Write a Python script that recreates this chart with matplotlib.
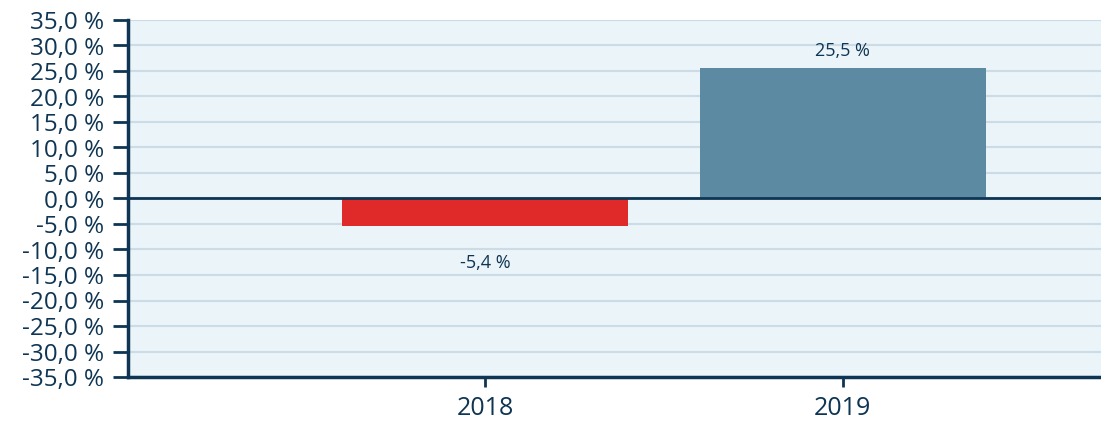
import numpy as np
import matplotlib.pyplot as plt

years = ['2018', '2019']
values = [-5.4, 25.5]
value_labels = ['-5,4 %', '25,5 %']
bar_colors = ['#e02a2a', '#5d8aa3']
y_ticks = list(range(-35, 40, 5))

navy = '#0e3553'

plt.rcParams['font.family'] = ['Open Sans', 'DejaVu Sans']

fig = plt.figure(figsize=(11.01, 4.23), dpi=100)
ax = fig.add_axes([128 / 1101, 1 - 377 / 423, 1 - 128 / 1101, (377 - 20) / 423])
ax.set_facecolor('#ebf4f8')

x = np.arange(len(years))
ax.bar(x, values, width=0.8, color=bar_colors, zorder=2)

# Beschriftung der Balken
for xi, v, lab in zip(x, values, value_labels):
    if v >= 0:
        ax.annotate(lab, (xi, v), xytext=(0, 6), textcoords='offset points',
                    ha='center', va='bottom', fontsize=13, color=navy)
    else:
        ax.annotate(lab, (xi, v), xytext=(0, -20), textcoords='offset points',
                    ha='center', va='top', fontsize=13, color=navy)

ax.axhline(0, color=navy, lw=2, zorder=3)

ax.set_ylim(-35, 35)
ax.set_xlim(-1.0, 1.723)
ax.set_yticks(y_ticks)
ax.set_yticklabels([f'{t:.1f} %'.replace('.', ',') for t in y_ticks])
ax.set_xticks(x)
ax.set_xticklabels(years)

ax.grid(axis='y', color='#cbdce7', lw=1.5, zorder=1)
ax.set_axisbelow(True)

for s in ['top', 'right']:
    ax.spines[s].set_visible(False)
for s in ['left', 'bottom']:
    ax.spines[s].set_color(navy)
    ax.spines[s].set_linewidth(2.5)

ax.tick_params(axis='y', length=11, width=2, color=navy, labelcolor=navy,
               labelsize=17.5, pad=6)
ax.tick_params(axis='x', length=7, width=2, color=navy, labelcolor=navy,
               labelsize=18, pad=7)

fig.savefig('out.png', dpi=100)
